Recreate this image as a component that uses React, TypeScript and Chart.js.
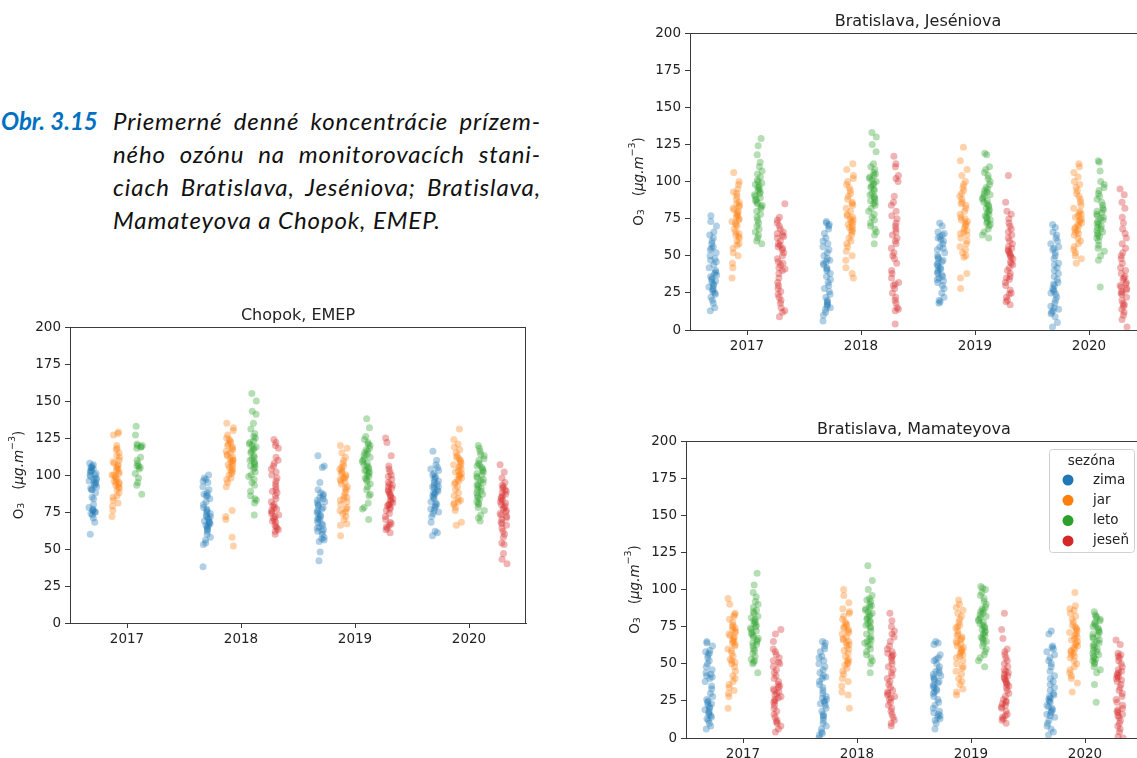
import React, { useEffect, useRef } from "react";
import { Chart, registerables } from "chart.js";

Chart.register(...registerables);

const years = ["2017", "2018", "2019", "2020"];
const seasons = ["zima", "jar", "leto", "jeseň"];
const seasonRgb = ["31,119,180", "255,127,14", "44,160,44", "214,39,40"];
const yTicks = [0, 25, 50, 75, 100, 125, 150, 175, 200];

// ---------- Chopok, EMEP (values per year 2017..2020) ----------
const chopokZima = [
  [60, 68, 71, 73, 74, 75, 75, 76, 76, 77, 78, 80, 84, 85, 88, 90, 90, 91, 92, 93, 94, 95, 96, 97, 98, 99, 100, 100, 101, 102, 103, 104, 105, 106, 107, 108, 95, 97, 103, 105],
  [38, 53, 54, 56, 58, 60, 62, 63, 64, 65, 66, 67, 68, 69, 70, 71, 72, 73, 74, 75, 76, 77, 78, 80, 82, 84, 86, 87, 88, 90, 92, 95, 96, 97, 98, 100, 66, 68, 72, 86],
  [42, 48, 55, 56, 57, 58, 60, 62, 63, 64, 65, 66, 67, 68, 70, 71, 72, 73, 74, 75, 76, 77, 78, 79, 80, 81, 82, 83, 84, 85, 86, 87, 88, 90, 95, 105, 106, 113, 62, 70],
  [59, 61, 62, 68, 72, 74, 75, 76, 77, 78, 79, 80, 81, 82, 84, 85, 86, 87, 88, 89, 90, 91, 92, 93, 94, 95, 96, 97, 98, 99, 100, 101, 103, 104, 105, 107, 110, 116, 88, 92],
];
const chopokJar = [
  [72, 76, 79, 81, 83, 85, 86, 88, 90, 91, 92, 93, 94, 95, 96, 97, 98, 99, 100, 101, 102, 103, 104, 105, 106, 107, 108, 109, 110, 112, 113, 115, 117, 118, 120, 127, 128, 129, 95, 100],
  [52, 58, 70, 72, 76, 92, 95, 97, 98, 100, 101, 102, 103, 104, 105, 106, 107, 108, 109, 110, 111, 112, 113, 114, 115, 116, 117, 118, 119, 120, 121, 122, 123, 124, 125, 127, 130, 132, 135, 110],
  [59, 66, 67, 70, 72, 74, 75, 76, 77, 78, 80, 82, 83, 84, 85, 86, 88, 90, 91, 92, 94, 95, 96, 97, 98, 99, 100, 101, 102, 103, 104, 105, 106, 108, 110, 112, 115, 118, 120, 98],
  [66, 68, 76, 78, 80, 81, 82, 83, 84, 86, 88, 90, 92, 94, 95, 96, 97, 98, 99, 100, 101, 102, 103, 104, 105, 106, 107, 108, 109, 110, 111, 112, 113, 115, 117, 119, 121, 124, 131, 100],
];
const chopokLeto = [
  [87, 93, 95, 98, 101, 104, 106, 106, 108, 110, 112, 118, 119, 119, 120, 120, 121, 127, 133, 105],
  [73, 81, 83, 84, 86, 89, 93, 95, 97, 99, 100, 102, 104, 105, 106, 107, 108, 109, 110, 111, 112, 113, 115, 116, 117, 118, 119, 120, 121, 122, 123, 125, 126, 128, 131, 135, 141, 143, 150, 155],
  [70, 77, 78, 81, 86, 87, 90, 92, 94, 96, 97, 98, 99, 100, 101, 102, 103, 104, 105, 106, 107, 108, 109, 110, 111, 112, 113, 114, 115, 116, 117, 118, 120, 121, 122, 124, 126, 132, 138, 103],
  [69, 71, 73, 76, 78, 80, 81, 82, 84, 85, 86, 87, 88, 89, 90, 91, 92, 93, 94, 95, 96, 97, 98, 99, 100, 101, 102, 103, 104, 105, 106, 107, 108, 110, 111, 113, 114, 116, 118, 120],
];
const chopokJesen = [
  [],
  [60, 62, 63, 64, 65, 66, 68, 69, 70, 71, 72, 73, 74, 75, 76, 77, 78, 79, 80, 82, 84, 86, 88, 89, 90, 92, 94, 96, 98, 100, 102, 104, 106, 108, 110, 112, 118, 120, 122, 124],
  [61, 63, 64, 65, 66, 67, 68, 70, 72, 74, 76, 77, 78, 79, 80, 81, 82, 83, 84, 85, 86, 87, 88, 89, 90, 91, 92, 93, 94, 95, 97, 99, 100, 102, 104, 106, 113, 122, 125, 80],
  [40, 43, 47, 53, 54, 58, 60, 62, 64, 66, 67, 68, 70, 71, 72, 73, 74, 75, 76, 77, 78, 79, 80, 81, 82, 83, 84, 85, 86, 87, 88, 89, 90, 91, 92, 93, 95, 98, 102, 107],
];

// ---------- Bratislava, Jeséniova ----------
const jesZima = [
  [13, 15, 18, 20, 22, 24, 25, 26, 27, 28, 29, 30, 31, 32, 33, 34, 35, 36, 37, 38, 39, 40, 42, 44, 46, 47, 48, 50, 52, 54, 55, 56, 58, 60, 62, 64, 66, 70, 73, 77],
  [6, 10, 12, 14, 15, 16, 17, 18, 19, 20, 22, 24, 26, 28, 30, 32, 34, 36, 38, 40, 41, 42, 44, 45, 46, 47, 48, 50, 52, 54, 56, 58, 60, 62, 65, 68, 70, 71, 72, 73],
  [18, 19, 20, 22, 25, 28, 30, 32, 33, 34, 35, 36, 37, 38, 39, 40, 41, 42, 43, 44, 45, 46, 47, 48, 49, 50, 52, 54, 55, 56, 58, 60, 61, 62, 63, 64, 65, 66, 70, 72],
  [2, 5, 9, 11, 12, 13, 14, 15, 16, 18, 20, 22, 24, 25, 26, 27, 28, 30, 31, 32, 34, 36, 38, 40, 42, 44, 45, 48, 50, 52, 54, 55, 56, 58, 60, 62, 64, 66, 69, 71],
];
const jesJar = [
  [35, 42, 45, 50, 52, 55, 57, 58, 60, 62, 63, 64, 65, 66, 68, 70, 71, 72, 73, 74, 75, 76, 77, 78, 79, 80, 81, 82, 83, 84, 85, 86, 88, 90, 92, 93, 95, 98, 100, 106],
  [35, 38, 42, 47, 50, 53, 56, 58, 60, 62, 64, 66, 67, 68, 69, 70, 71, 72, 73, 74, 75, 76, 77, 78, 80, 82, 84, 85, 86, 88, 90, 92, 94, 96, 98, 100, 102, 104, 108, 112],
  [28, 35, 38, 49, 50, 52, 54, 56, 58, 60, 62, 64, 65, 66, 67, 68, 70, 71, 72, 73, 74, 75, 76, 78, 80, 82, 84, 85, 86, 88, 90, 92, 94, 96, 98, 100, 104, 108, 114, 123],
  [45, 48, 50, 52, 54, 56, 58, 60, 62, 64, 65, 66, 67, 68, 69, 70, 71, 72, 73, 74, 75, 76, 77, 78, 79, 80, 82, 84, 86, 88, 90, 92, 94, 96, 98, 100, 103, 106, 110, 112],
];
const jesLeto = [
  [58, 60, 62, 64, 66, 68, 70, 72, 74, 76, 78, 80, 82, 83, 84, 85, 86, 87, 88, 89, 90, 91, 92, 93, 94, 95, 96, 97, 98, 99, 100, 101, 103, 105, 107, 110, 113, 118, 124, 129],
  [58, 64, 66, 68, 70, 72, 74, 76, 78, 80, 82, 84, 85, 86, 87, 88, 89, 90, 91, 92, 94, 95, 96, 97, 98, 99, 100, 101, 102, 103, 104, 105, 106, 108, 110, 112, 120, 125, 130, 133],
  [62, 64, 66, 68, 70, 71, 72, 73, 74, 75, 76, 77, 78, 79, 80, 81, 82, 83, 84, 85, 86, 87, 88, 89, 90, 91, 92, 93, 94, 95, 96, 98, 100, 102, 104, 106, 108, 110, 118, 119],
  [29, 47, 50, 53, 55, 57, 60, 62, 63, 64, 65, 66, 67, 68, 69, 70, 71, 72, 73, 74, 75, 76, 77, 78, 79, 80, 81, 82, 84, 86, 88, 90, 92, 94, 96, 98, 100, 107, 113, 114],
];
const jesJesen = [
  [9, 12, 13, 15, 18, 20, 22, 24, 26, 28, 30, 32, 35, 38, 40, 41, 42, 44, 45, 46, 48, 50, 52, 54, 55, 56, 57, 58, 60, 62, 63, 64, 65, 66, 68, 70, 72, 74, 76, 85],
  [4, 13, 14, 15, 18, 20, 22, 25, 28, 30, 31, 32, 35, 38, 40, 45, 48, 50, 52, 55, 58, 60, 62, 64, 66, 68, 70, 72, 75, 77, 80, 84, 86, 90, 100, 102, 104, 110, 112, 117],
  [17, 19, 20, 22, 24, 25, 27, 30, 32, 34, 35, 36, 38, 40, 42, 44, 45, 46, 48, 49, 50, 51, 52, 53, 54, 55, 56, 58, 60, 62, 64, 66, 68, 70, 72, 75, 78, 80, 86, 104],
  [2, 7, 10, 12, 14, 16, 17, 18, 20, 22, 24, 25, 26, 27, 28, 29, 30, 31, 32, 34, 35, 36, 38, 40, 42, 45, 48, 50, 52, 55, 58, 62, 65, 68, 72, 76, 82, 86, 91, 95],
];

// ---------- Bratislava, Mamateyova ----------
const mamZima = [
  [6, 8, 10, 12, 13, 14, 15, 16, 17, 18, 19, 20, 21, 22, 23, 24, 25, 26, 28, 30, 33, 35, 38, 40, 41, 42, 43, 44, 46, 48, 50, 52, 54, 56, 57, 58, 59, 62, 64, 65],
  [0, 2, 4, 6, 8, 10, 12, 14, 15, 16, 18, 20, 22, 23, 24, 25, 26, 27, 28, 30, 32, 34, 36, 38, 40, 41, 42, 44, 46, 48, 50, 52, 54, 55, 58, 60, 62, 64, 65, 3],
  [6, 10, 12, 13, 14, 15, 16, 17, 18, 20, 22, 24, 26, 28, 30, 31, 32, 33, 34, 35, 36, 37, 38, 39, 40, 41, 42, 43, 44, 45, 46, 48, 50, 52, 53, 54, 56, 63, 64, 65],
  [2, 4, 6, 8, 10, 12, 14, 15, 16, 17, 18, 19, 20, 22, 24, 25, 26, 27, 28, 29, 30, 32, 34, 36, 38, 40, 42, 45, 48, 50, 52, 54, 56, 58, 60, 61, 62, 70, 72, 21],
];
const mamJar = [
  [20, 28, 30, 32, 34, 36, 38, 40, 42, 45, 48, 50, 51, 52, 53, 55, 57, 59, 60, 62, 63, 64, 65, 66, 67, 68, 69, 70, 71, 72, 73, 74, 75, 76, 78, 80, 82, 83, 84, 90, 94],
  [20, 29, 31, 35, 38, 40, 43, 45, 47, 49, 50, 51, 52, 53, 55, 57, 59, 60, 62, 63, 64, 65, 66, 67, 68, 70, 71, 72, 73, 74, 75, 76, 77, 78, 80, 82, 84, 85, 87, 91, 96, 100],
  [29, 31, 33, 36, 38, 40, 43, 45, 47, 48, 50, 52, 54, 55, 56, 57, 58, 59, 60, 61, 62, 63, 64, 65, 66, 67, 68, 69, 70, 72, 74, 75, 76, 78, 80, 82, 84, 86, 88, 90, 93],
  [31, 37, 40, 42, 44, 46, 48, 50, 52, 54, 55, 56, 57, 58, 59, 60, 61, 62, 63, 64, 65, 66, 67, 68, 69, 70, 71, 72, 73, 74, 75, 76, 78, 80, 82, 84, 86, 87, 89, 98],
];
const mamLeto = [
  [44, 50, 51, 52, 53, 55, 57, 59, 60, 62, 63, 64, 65, 66, 67, 68, 69, 70, 71, 72, 73, 74, 75, 76, 77, 78, 79, 80, 81, 82, 84, 85, 86, 88, 90, 92, 95, 98, 103, 111],
  [44, 50, 52, 54, 56, 58, 60, 62, 63, 64, 65, 66, 67, 68, 70, 72, 74, 75, 76, 77, 78, 79, 80, 81, 82, 83, 84, 85, 86, 87, 88, 89, 90, 92, 93, 94, 96, 100, 106, 116],
  [48, 52, 54, 56, 58, 60, 62, 64, 65, 66, 67, 68, 69, 70, 71, 72, 73, 74, 75, 76, 77, 78, 79, 80, 81, 82, 83, 84, 85, 86, 87, 88, 90, 92, 94, 96, 98, 100, 101, 102],
  [24, 36, 44, 46, 48, 50, 51, 52, 53, 54, 55, 56, 57, 58, 59, 60, 61, 62, 63, 64, 65, 66, 67, 68, 69, 70, 71, 72, 73, 74, 75, 76, 77, 78, 79, 80, 81, 82, 83, 85],
];
const mamJesen = [
  [4, 6, 8, 10, 11, 12, 14, 16, 18, 20, 22, 24, 25, 26, 27, 28, 29, 30, 31, 32, 33, 34, 35, 36, 38, 40, 42, 44, 46, 48, 50, 51, 52, 54, 56, 58, 60, 65, 70, 73],
  [8, 10, 12, 14, 16, 18, 20, 22, 24, 26, 27, 28, 29, 30, 31, 32, 34, 36, 38, 40, 42, 44, 46, 48, 50, 52, 54, 55, 56, 57, 58, 60, 62, 65, 68, 70, 72, 75, 79, 84],
  [10, 12, 13, 14, 15, 16, 18, 20, 21, 22, 23, 24, 25, 26, 28, 30, 32, 34, 35, 36, 37, 38, 39, 40, 41, 42, 43, 44, 45, 46, 48, 50, 52, 54, 56, 58, 60, 67, 73, 84],
  [0, 1, 4, 6, 8, 10, 12, 14, 15, 16, 17, 18, 19, 20, 22, 24, 26, 28, 30, 32, 34, 36, 38, 39, 40, 41, 42, 43, 44, 45, 46, 48, 50, 52, 54, 55, 56, 57, 63, 66],
];

// ---------- layout / style constants ----------
const dodge = [-0.3, -0.1, 0.1, 0.3];
const TICK_FONT = { family: "'DejaVu Sans', sans-serif", size: 13.5 };
const AXIS_COLOR = "#3a3a3a";
const TEXT_COLOR = "#222";

// deterministic horizontal strip spread (position only, not data)
const jitter = (i: number, k: number) => {
  const s = Math.sin(i * 12.9898 + k * 78.233) * 43758.5453;
  return (s - Math.floor(s) - 0.5) * 0.07;
};

type Groups = number[][][];

function buildDatasets(groups: Groups) {
  return seasons.map((s, si) => ({
    label: s,
    data: groups[si].flatMap((vals, yi) =>
      vals.map((v, i) => ({ x: yi + dodge[si] + jitter(i, si * 4 + yi + 1), y: v }))
    ),
    backgroundColor: `rgba(${seasonRgb[si]},0.35)`,
    borderWidth: 0,
    pointRadius: 3.5,
    pointHoverRadius: 3.5,
    showLine: false,
    clip: 0,
  }));
}

const decorPlugin = {
  id: "decor",
  afterDraw(chart: any, _args: any, opts: any) {
    const { ctx, chartArea: a } = chart;
    ctx.save();
    // top and right spines
    ctx.strokeStyle = AXIS_COLOR;
    ctx.lineWidth = 1;
    ctx.beginPath();
    ctx.moveTo(a.left, Math.round(a.top) + 0.5);
    ctx.lineTo(a.right, Math.round(a.top) + 0.5);
    ctx.moveTo(Math.round(a.right) - 0.5, a.top);
    ctx.lineTo(Math.round(a.right) - 0.5, a.bottom);
    ctx.stroke();

    // title
    ctx.fillStyle = TEXT_COLOR;
    ctx.font = "16px 'DejaVu Sans', sans-serif";
    ctx.textAlign = "center";
    ctx.textBaseline = "alphabetic";
    ctx.fillText(opts.title, (a.left + a.right) / 2, a.top - 7);

    // y label: O3  (μg.m^-3)
    const fs = 13.5;
    const small = 9.5;
    const parts: { t: string; font: string; dy: number }[] = [
      { t: "O", font: `${fs}px 'DejaVu Sans'`, dy: 0 },
      { t: "3", font: `${small}px 'DejaVu Sans'`, dy: 3 },
      { t: "   (", font: `${fs}px 'DejaVu Sans'`, dy: 0 },
      { t: "μg.m", font: `italic ${fs}px 'DejaVu Sans'`, dy: 0 },
      { t: "−3", font: `${small}px 'DejaVu Sans'`, dy: -6 },
      { t: ")", font: `${fs}px 'DejaVu Sans'`, dy: 0 },
    ];
    let total = 0;
    const widths = parts.map((p) => {
      ctx.font = p.font;
      const w = ctx.measureText(p.t).width;
      total += w;
      return w;
    });
    ctx.translate(a.left - 51, (a.top + a.bottom) / 2);
    ctx.rotate(-Math.PI / 2);
    ctx.textAlign = "left";
    ctx.textBaseline = "middle";
    let x = -total / 2;
    parts.forEach((p, i) => {
      ctx.font = p.font;
      ctx.fillText(p.t, x, p.dy);
      x += widths[i];
    });
    ctx.restore();

    if (opts.legend) {
      ctx.save();
      const w = 85;
      const h = 103;
      const bx = a.right - 8 - w;
      const by = a.top + 8;
      ctx.fillStyle = "rgba(255,255,255,0.85)";
      ctx.strokeStyle = "#d0d0d0";
      ctx.lineWidth = 1;
      ctx.beginPath();
      (ctx as any).roundRect(bx + 0.5, by + 0.5, w, h, 3);
      ctx.fill();
      ctx.stroke();
      ctx.fillStyle = TEXT_COLOR;
      ctx.font = "13.5px 'DejaVu Sans', sans-serif";
      ctx.textAlign = "center";
      ctx.textBaseline = "middle";
      ctx.fillText("sezóna", bx + w / 2, by + 12);
      ctx.textAlign = "left";
      seasons.forEach((s, i) => {
        const yy = by + 31 + i * 20.3;
        ctx.fillStyle = `rgb(${seasonRgb[i]})`;
        ctx.beginPath();
        ctx.arc(bx + 19, yy, 5.5, 0, Math.PI * 2);
        ctx.fill();
        ctx.fillStyle = TEXT_COLOR;
        ctx.fillText(s, bx + 44, yy);
      });
      ctx.restore();
    }
  },
};

type PanelProps = {
  title: string;
  groups: Groups;
  left: number;
  top: number;
  width: number;
  height: number;
  areaLeft: number;
  areaTop: number;
  areaRight: number;
  areaBottom: number;
  legend?: boolean;
};

function Panel(p: PanelProps) {
  const ref = useRef<HTMLCanvasElement | null>(null);
  useEffect(() => {
    if (!ref.current) return;
    const chart = new Chart(ref.current, {
      type: "scatter",
      data: { datasets: buildDatasets(p.groups) as any },
      options: {
        animation: false,
        responsive: false,
        devicePixelRatio: 1,
        events: [],
        layout: {
          padding: { left: 0, top: p.areaTop, right: p.width - p.areaRight, bottom: 0 },
        },
        plugins: {
          legend: { display: false },
          tooltip: { enabled: false },
          title: { display: false },
          decor: { title: p.title, legend: !!p.legend },
        } as any,
        scales: {
          x: {
            type: "linear",
            min: -0.5,
            max: 3.5,
            afterBuildTicks: (s: any) => {
              s.ticks = years.map((_, i) => ({ value: i }));
            },
            afterFit: (s: any) => {
              s.height = p.height - p.areaBottom;
            },
            ticks: {
              callback: (v: any) => years[v] ?? "",
              font: TICK_FONT,
              color: TEXT_COLOR,
              padding: 3,
              maxRotation: 0,
              autoSkip: false,
            },
            grid: { drawOnChartArea: false, drawTicks: true, tickLength: 5, color: AXIS_COLOR },
            border: { display: true, color: AXIS_COLOR, width: 1 },
          },
          y: {
            type: "linear",
            min: 0,
            max: 200,
            afterBuildTicks: (s: any) => {
              s.ticks = yTicks.map((v) => ({ value: v }));
            },
            afterFit: (s: any) => {
              s.width = p.areaLeft;
            },
            ticks: {
              font: TICK_FONT,
              color: TEXT_COLOR,
              padding: 4,
            },
            grid: { drawOnChartArea: false, drawTicks: true, tickLength: 5, color: AXIS_COLOR },
            border: { display: true, color: AXIS_COLOR, width: 1 },
          },
        },
      } as any,
      plugins: [decorPlugin as any],
    });
    return () => chart.destroy();
  }, []);
  return (
    <canvas
      ref={ref}
      width={p.width}
      height={p.height}
      style={{ position: "absolute", left: p.left, top: p.top, width: p.width, height: p.height }}
    />
  );
}

const captionFont = "Lato, 'Open Sans', sans-serif";

export default function App() {
  return (
    <div
      style={{
        position: "absolute",
        left: 0,
        top: 0,
        width: 1137,
        height: 758,
        overflow: "hidden",
        background: "#fff",
      }}
    >
      <div
        style={{
          position: "absolute",
          left: 1,
          top: 104,
          fontFamily: captionFont,
          fontStyle: "italic",
          fontWeight: 700,
          fontSize: 24,
          lineHeight: "33px",
          color: "#0070c0",
          whiteSpace: "nowrap",
        }}
      >
        Obr. 3.15
      </div>
      <div
        style={{
          position: "absolute",
          left: 113,
          top: 104,
          width: 428,
          fontFamily: captionFont,
          fontStyle: "italic",
          fontSize: 24,
          letterSpacing: "0.9px",
          lineHeight: "33px",
          color: "#111",
        }}
      >
        {[
          "Priemerné denné koncentrácie prízem-",
          "ného ozónu na monitorovacích stani-",
          "ciach Bratislava, Jeséniova; Bratislava,",
        ].map((t) => (
          <div key={t} style={{ textAlign: "justify", textAlignLast: "justify", whiteSpace: "nowrap" }}>
            {t}
          </div>
        ))}
        <div style={{ whiteSpace: "nowrap" }}>Mamateyova a Chopok, EMEP.</div>
      </div>

      <Panel
        title="Chopok, EMEP"
        groups={[chopokZima, chopokJar, chopokLeto, chopokJesen]}
        left={0}
        top={290}
        width={560}
        height={370}
        areaLeft={70}
        areaTop={37}
        areaRight={526}
        areaBottom={333}
      />
      <Panel
        title="Bratislava, Jeséniova"
        groups={[jesZima, jesJar, jesLeto, jesJesen]}
        left={620}
        top={0}
        width={540}
        height={360}
        areaLeft={70}
        areaTop={33}
        areaRight={526}
        areaBottom={330}
      />
      <Panel
        title="Bratislava, Mamateyova"
        groups={[mamZima, mamJar, mamLeto, mamJesen]}
        left={616}
        top={400}
        width={540}
        height={380}
        areaLeft={70}
        areaTop={41}
        areaRight={526}
        areaBottom={338}
        legend
      />
    </div>
  );
}
